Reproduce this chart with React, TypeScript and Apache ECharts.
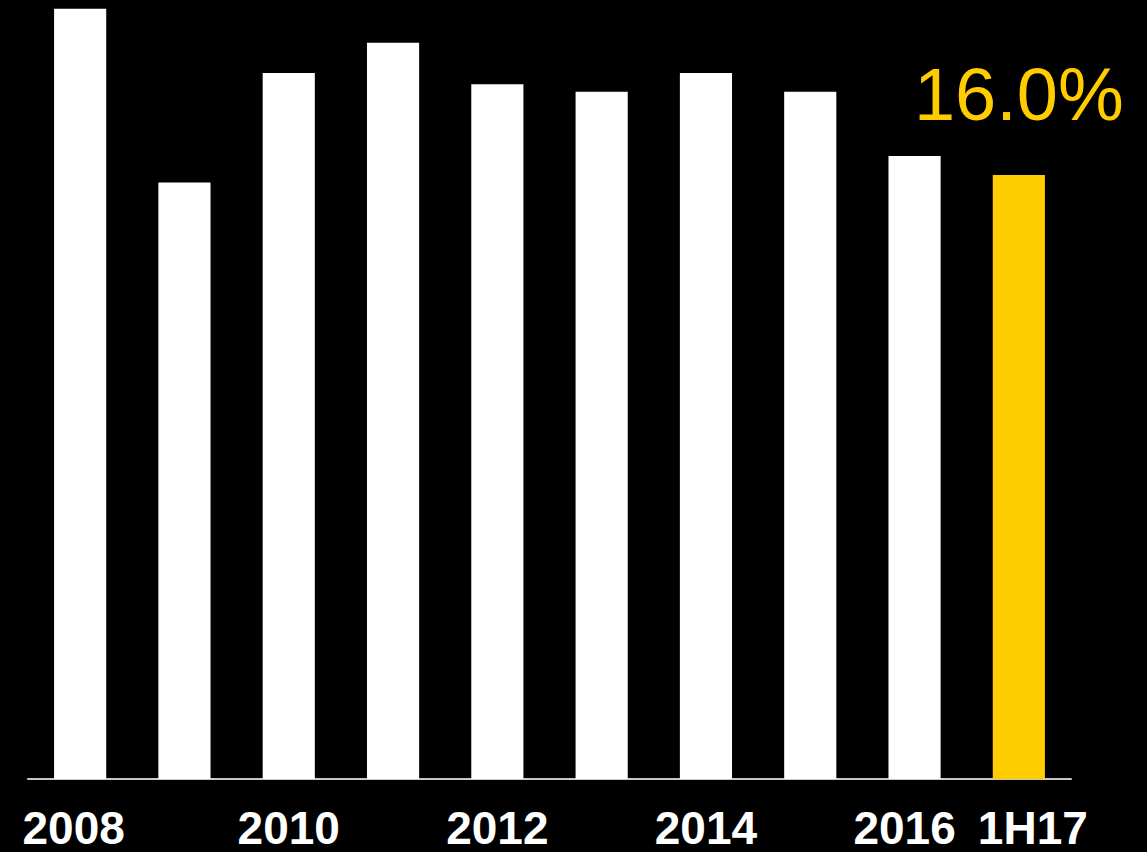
import React, { useEffect, useRef } from "react";
import * as echarts from "echarts";

const categories = ["2008", "2009", "2010", "2011", "2012", "2013", "2014", "2015", "2016", "1H17"];
const values = [20.4, 15.8, 18.7, 19.5, 18.4, 18.2, 18.7, 18.2, 16.5, 16.0];
const shownLabels = [0, 2, 4, 6, 8, 9];
const highlightIndex = 9;

export default function App() {
  const ref = useRef<HTMLDivElement>(null);
  useEffect(() => {
    if (!ref.current) return;
    const chart = echarts.init(ref.current, undefined, { renderer: "svg" });
    const font = "'Liberation Sans', Arial, sans-serif";
    const base = { color: "#ffffff", fontFamily: font, fontWeight: "bold", fontSize: 46 };
    chart.setOption({
      animation: false,
      backgroundColor: "#000000",
      grid: { left: 28, right: 76, top: 5, bottom: 73, containLabel: false },
      xAxis: {
        type: "category",
        data: categories,
        axisLine: { show: true, lineStyle: { color: "#c8c8c8", width: 2 } },
        axisTick: { show: false },
        axisLabel: {
          interval: (i: number) => shownLabels.includes(i),
          margin: 26,
          color: "#ffffff",
          fontFamily: font,
          fontWeight: "bold",
          fontSize: 46,
          formatter: (v: string, i: number) => {
            if (i === 0) return "{l|" + v + "}";
            if (i === 8) return "{m|" + v + "}";
            if (i === 9) return "{r|" + v + "}";
            return "{n|" + v + "}";
          },
          rich: {
            n: { ...base },
            l: { ...base, padding: [0, 13, 0, 0] },
            m: { ...base, padding: [0, 20, 0, 0] },
            r: { ...base, padding: [0, 0, 0, 28] },
          },
        },
      },
      yAxis: {
        type: "value",
        min: 0,
        max: 20.5,
        show: false,
        splitLine: { show: false },
      },
      series: [
        {
          type: "bar",
          barWidth: "50%",
          data: values.map((v, i) =>
            i === highlightIndex
              ? {
                  value: v,
                  itemStyle: { color: "#ffcc00" },
                  label: {
                    show: true,
                    position: "top",
                    distance: 43,
                    formatter: (p: any) => p.value.toFixed(1) + "%",
                    color: "#ffcc00",
                    fontFamily: font,
                    fontSize: 74,
                  },
                }
              : { value: v, itemStyle: { color: "#ffffff" } }
          ),
        },
      ],
    });
    return () => chart.dispose();
  }, []);
  return (
    <div
      ref={ref}
      style={{ position: "fixed", left: 0, top: 0, width: 1147, height: 852, background: "#000" }}
    />
  );
}
